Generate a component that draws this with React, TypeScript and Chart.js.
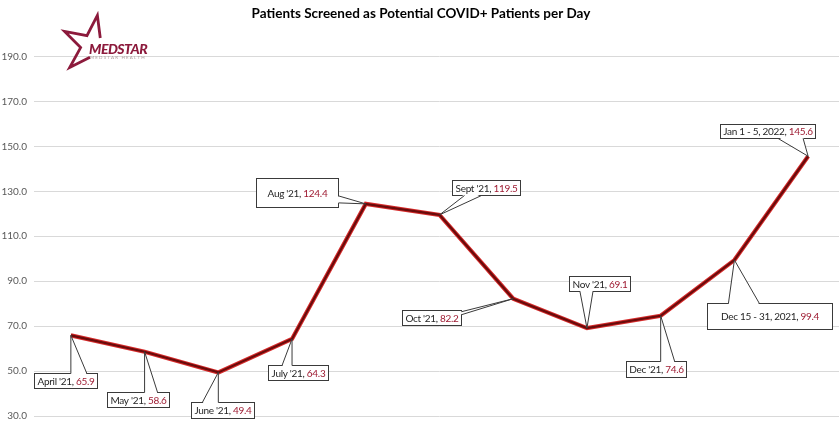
import React, { useEffect, useRef } from "react";
import { Chart, registerables } from "chart.js";

Chart.register(...registerables);

const categories = [
  "April '21",
  "May '21",
  "June '21",
  "July '21",
  "Aug '21",
  "Sept '21",
  "Oct '21",
  "Nov '21",
  "Dec '21",
  "Dec 15 - 31, 2021",
  "Jan 1 - 5, 2022",
];
const values = [65.9, 58.6, 49.4, 64.3, 124.4, 119.5, 82.2, 69.1, 74.6, 99.4, 145.6];
const yTicks = [30, 50, 70, 90, 110, 130, 150, 170, 190];
const chartTitle = "Patients Screened as Potential COVID+ Patients per Day";

// Callout layout: box centre offset from point, size, and leader base on a box side
type Side = "top" | "bottom" | "left" | "right";
const calloutLayout: { cx: number; cy: number; w?: number; h: number; side: Side; a: number; b: number }[] = [
  { cx: -5, cy: 45.5, h: 15, side: "top", a: 0, b: 16 },
  { cx: -6.5, cy: 47.5, h: 15, side: "top", a: 0, b: 13 },
  { cx: 4, cy: 38, h: 16, side: "top", a: -16, b: 0 },
  { cx: 5.5, cy: 34, h: 15, side: "top", a: -10, b: 0 },
  { cx: -69, cy: -11.5, w: 82, h: 29, side: "right", a: -8, b: -1 },
  { cx: 46.5, cy: -27.5, h: 15, side: "bottom", a: 25, b: 42 },
  { cx: -81.5, cy: 18.5, h: 15, side: "right", a: 13, b: 16 },
  { cx: 12.5, cy: -44.5, h: 15, side: "bottom", a: -7, b: 6 },
  { cx: -5, cy: 53, h: 16, side: "top", a: 0, b: 14 },
  { cx: 35.5, cy: 56, w: 125, h: 26, side: "top", a: -6, b: 25 },
  { cx: -40.5, cy: -25, h: 14, side: "bottom", a: -30, b: -5 },
];

const FONT = "Lato, 'Noto Sans', sans-serif";

const drawLogo = (ctx: CanvasRenderingContext2D) => {
  ctx.save();
  const c = { x: 92, y: 46 };
  const R = 31,
    r = 11.5;
  const pts: [number, number][] = [];
  const angs = [-44, -80, -116, -152, -188, -224, -260];
  angs.forEach((a, k) => {
    const rad = (a * Math.PI) / 180;
    const rr = k % 2 === 1 ? R : r;
    pts.push([c.x + rr * Math.cos(rad), c.y + rr * Math.sin(rad)]);
  });
  ctx.strokeStyle = "#8c1a3c";
  ctx.lineWidth = 2.8;
  ctx.lineJoin = "miter";
  ctx.beginPath();
  pts.forEach((p, k) => (k === 0 ? ctx.moveTo(p[0], p[1]) : ctx.lineTo(p[0], p[1])));
  ctx.stroke();
  ctx.fillStyle = "#8c1a3c";
  ctx.font = `italic 900 14px ${FONT}`;
  ctx.textAlign = "left";
  ctx.textBaseline = "alphabetic";
  (ctx as any).letterSpacing = "-0.5px";
  ctx.fillText("MEDSTAR", 89, 54);
  (ctx as any).letterSpacing = "0px";
  ctx.fillStyle = "#b0a0a0";
  ctx.font = `4.5px ${FONT}`;
  ctx.fillText("M E D S T A R   H E A L T H", 90, 59);
  ctx.restore();
};

const decorPlugin = {
  id: "decor",
  afterDraw(chart: any) {
    const ctx: CanvasRenderingContext2D = chart.ctx;
    ctx.save();
    ctx.fillStyle = "#000";
    ctx.font = `bold 13.5px ${FONT}`;
    ctx.textAlign = "center";
    ctx.textBaseline = "middle";
    ctx.fillText(chartTitle, 421, 14);
    ctx.restore();
    drawLogo(ctx);
  },
  afterDatasetsDraw(chart: any) {
    const ctx: CanvasRenderingContext2D = chart.ctx;
    const meta = chart.getDatasetMeta(0);
    ctx.save();
    (ctx as any).letterSpacing = "-0.3px";
    meta.data.forEach((pt: any, i: number) => {
      const L = calloutLayout[i];
      const px = pt.x,
        py = pt.y;
      ctx.font = `10px ${FONT}`;
      const t1 = categories[i] + ", ";
      const t2 = values[i].toFixed(1);
      const w1 = ctx.measureText(t1).width;
      const w2 = ctx.measureText(t2).width;
      const tw = w1 + w2;
      const w = Math.round(L.w ?? tw + 6);
      const h = L.h;
      const bx = Math.round(px + L.cx - w / 2) + 0.5;
      const by = Math.round(py + L.cy - h / 2) + 0.5;
      ctx.fillStyle = "#fff";
      ctx.fillRect(bx, by, w, h);
      ctx.strokeStyle = "#3a3a3a";
      ctx.lineWidth = 1;
      ctx.strokeRect(bx, by, w, h);
      let b1: [number, number], b2: [number, number], i1: [number, number], i2: [number, number];
      if (L.side === "top" || L.side === "bottom") {
        const y = L.side === "top" ? by : by + h;
        const d = L.side === "top" ? 1.5 : -1.5;
        b1 = [px + L.a, y];
        b2 = [px + L.b, y];
        i1 = [px + L.a, y + d];
        i2 = [px + L.b, y + d];
      } else {
        const x = L.side === "left" ? bx : bx + w;
        const d = L.side === "left" ? 1.5 : -1.5;
        b1 = [x, py + L.a];
        b2 = [x, py + L.b];
        i1 = [x + d, py + L.a];
        i2 = [x + d, py + L.b];
      }
      ctx.fillStyle = "#fff";
      ctx.beginPath();
      ctx.moveTo(px, py);
      ctx.lineTo(i1[0], i1[1]);
      ctx.lineTo(i2[0], i2[1]);
      ctx.closePath();
      ctx.fill();
      ctx.beginPath();
      ctx.moveTo(b1[0], b1[1]);
      ctx.lineTo(px, py);
      ctx.lineTo(b2[0], b2[1]);
      ctx.stroke();
      ctx.textBaseline = "middle";
      ctx.textAlign = "left";
      const tx = bx + (w - tw) / 2;
      const ty = by + h / 2 + 0.5;
      ctx.fillStyle = "#262626";
      ctx.fillText(t1, tx, ty);
      ctx.fillStyle = "#9e1b32";
      ctx.fillText(t2, tx + w1, ty);
    });
    ctx.restore();
  },
};

export default function App() {
  const ref = useRef<HTMLCanvasElement | null>(null);
  useEffect(() => {
    document.body.style.margin = "0";
    if (!ref.current) return;
    const chart = new Chart(ref.current, {
      type: "line",
      data: {
        labels: categories,
        datasets: [
          {
            data: values,
            borderColor: "#6a0b0b",
            borderWidth: 2.2,
            pointRadius: 0,
            tension: 0,
            order: 0,
          },
          {
            data: values,
            borderColor: "#d62a2a",
            borderWidth: 4.2,
            pointRadius: 0,
            tension: 0,
            order: 1,
          },
        ],
      },
      options: {
        responsive: false,
        animation: false,
        layout: { padding: { top: 34, bottom: 10, left: 0, right: 0 } },
        plugins: {
          legend: { display: false },
          title: { display: false },
          tooltip: { enabled: false },
        },
        scales: {
          x: {
            type: "category",
            offset: true,
            display: false,
            grid: { display: false },
          },
          y: {
            min: 30,
            max: 200,
            afterBuildTicks: (scale: any) => {
              scale.ticks = yTicks.map((v) => ({ value: v }));
            },
            afterFit: (scale: any) => {
              scale.width = 34;
            },
            border: { display: false },
            grid: { color: "#d9d9d9", lineWidth: 1, drawTicks: false },
            ticks: {
              padding: 7,
              color: "#595959",
              font: { family: FONT, size: 10 },
              callback: (v: any) => Number(v).toFixed(1),
            },
          },
        },
      },
      plugins: [decorPlugin],
    });
    return () => chart.destroy();
  }, []);
  return (
    <div style={{ width: 839, height: 429, overflow: "hidden", position: "relative", background: "#fff" }}>
      <canvas ref={ref} width={845} height={429} style={{ display: "block" }} />
    </div>
  );
}
